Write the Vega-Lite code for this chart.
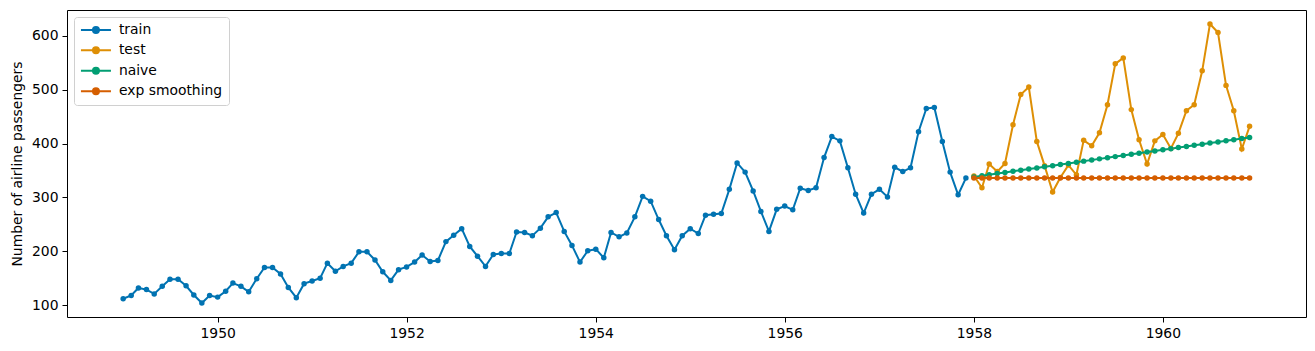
{
  "$schema": "https://vega.github.io/schema/vega-lite/v6.json",
  "autosize": {"type": "none"},
  "padding": {"left": 67, "top": 10, "right": 9, "bottom": 34},
  "width": 1239,
  "height": 307,
  "background": "white",
  "config": {
    "font": "DejaVu Sans",
    "view": {"stroke": "black", "strokeWidth": 1},
    "axis": {"grid": false, "domain": false, "tickColor": "black", "tickSize": 5, "tickWidth": 1, "labelColor": "black", "labelFontSize": 13.9, "labelFont": "DejaVu Sans", "labelPadding": 4, "titleFont": "DejaVu Sans", "titleFontSize": 13.9, "titleFontWeight": "normal", "titleColor": "black"}
  },
  "data": {"values": [
    {"month":"1949-01","series":"train","passengers":112},{"month":"1949-02","series":"train","passengers":118},{"month":"1949-03","series":"train","passengers":132},{"month":"1949-04","series":"train","passengers":129},{"month":"1949-05","series":"train","passengers":121},{"month":"1949-06","series":"train","passengers":135},{"month":"1949-07","series":"train","passengers":148},{"month":"1949-08","series":"train","passengers":148},{"month":"1949-09","series":"train","passengers":136},{"month":"1949-10","series":"train","passengers":119},{"month":"1949-11","series":"train","passengers":104},{"month":"1949-12","series":"train","passengers":118},
    {"month":"1950-01","series":"train","passengers":115},{"month":"1950-02","series":"train","passengers":126},{"month":"1950-03","series":"train","passengers":141},{"month":"1950-04","series":"train","passengers":135},{"month":"1950-05","series":"train","passengers":125},{"month":"1950-06","series":"train","passengers":149},{"month":"1950-07","series":"train","passengers":170},{"month":"1950-08","series":"train","passengers":170},{"month":"1950-09","series":"train","passengers":158},{"month":"1950-10","series":"train","passengers":133},{"month":"1950-11","series":"train","passengers":114},{"month":"1950-12","series":"train","passengers":140},
    {"month":"1951-01","series":"train","passengers":145},{"month":"1951-02","series":"train","passengers":150},{"month":"1951-03","series":"train","passengers":178},{"month":"1951-04","series":"train","passengers":163},{"month":"1951-05","series":"train","passengers":172},{"month":"1951-06","series":"train","passengers":178},{"month":"1951-07","series":"train","passengers":199},{"month":"1951-08","series":"train","passengers":199},{"month":"1951-09","series":"train","passengers":184},{"month":"1951-10","series":"train","passengers":162},{"month":"1951-11","series":"train","passengers":146},{"month":"1951-12","series":"train","passengers":166},
    {"month":"1952-01","series":"train","passengers":171},{"month":"1952-02","series":"train","passengers":180},{"month":"1952-03","series":"train","passengers":193},{"month":"1952-04","series":"train","passengers":181},{"month":"1952-05","series":"train","passengers":183},{"month":"1952-06","series":"train","passengers":218},{"month":"1952-07","series":"train","passengers":230},{"month":"1952-08","series":"train","passengers":242},{"month":"1952-09","series":"train","passengers":209},{"month":"1952-10","series":"train","passengers":191},{"month":"1952-11","series":"train","passengers":172},{"month":"1952-12","series":"train","passengers":194},
    {"month":"1953-01","series":"train","passengers":196},{"month":"1953-02","series":"train","passengers":196},{"month":"1953-03","series":"train","passengers":236},{"month":"1953-04","series":"train","passengers":235},{"month":"1953-05","series":"train","passengers":229},{"month":"1953-06","series":"train","passengers":243},{"month":"1953-07","series":"train","passengers":264},{"month":"1953-08","series":"train","passengers":272},{"month":"1953-09","series":"train","passengers":237},{"month":"1953-10","series":"train","passengers":211},{"month":"1953-11","series":"train","passengers":180},{"month":"1953-12","series":"train","passengers":201},
    {"month":"1954-01","series":"train","passengers":204},{"month":"1954-02","series":"train","passengers":188},{"month":"1954-03","series":"train","passengers":235},{"month":"1954-04","series":"train","passengers":227},{"month":"1954-05","series":"train","passengers":234},{"month":"1954-06","series":"train","passengers":264},{"month":"1954-07","series":"train","passengers":302},{"month":"1954-08","series":"train","passengers":293},{"month":"1954-09","series":"train","passengers":259},{"month":"1954-10","series":"train","passengers":229},{"month":"1954-11","series":"train","passengers":203},{"month":"1954-12","series":"train","passengers":229},
    {"month":"1955-01","series":"train","passengers":242},{"month":"1955-02","series":"train","passengers":233},{"month":"1955-03","series":"train","passengers":267},{"month":"1955-04","series":"train","passengers":269},{"month":"1955-05","series":"train","passengers":270},{"month":"1955-06","series":"train","passengers":315},{"month":"1955-07","series":"train","passengers":364},{"month":"1955-08","series":"train","passengers":347},{"month":"1955-09","series":"train","passengers":312},{"month":"1955-10","series":"train","passengers":274},{"month":"1955-11","series":"train","passengers":237},{"month":"1955-12","series":"train","passengers":278},
    {"month":"1956-01","series":"train","passengers":284},{"month":"1956-02","series":"train","passengers":277},{"month":"1956-03","series":"train","passengers":317},{"month":"1956-04","series":"train","passengers":313},{"month":"1956-05","series":"train","passengers":318},{"month":"1956-06","series":"train","passengers":374},{"month":"1956-07","series":"train","passengers":413},{"month":"1956-08","series":"train","passengers":405},{"month":"1956-09","series":"train","passengers":355},{"month":"1956-10","series":"train","passengers":306},{"month":"1956-11","series":"train","passengers":271},{"month":"1956-12","series":"train","passengers":306},
    {"month":"1957-01","series":"train","passengers":315},{"month":"1957-02","series":"train","passengers":301},{"month":"1957-03","series":"train","passengers":356},{"month":"1957-04","series":"train","passengers":348},{"month":"1957-05","series":"train","passengers":355},{"month":"1957-06","series":"train","passengers":422},{"month":"1957-07","series":"train","passengers":465},{"month":"1957-08","series":"train","passengers":467},{"month":"1957-09","series":"train","passengers":404},{"month":"1957-10","series":"train","passengers":347},{"month":"1957-11","series":"train","passengers":305},{"month":"1957-12","series":"train","passengers":336},
    {"month":"1958-01","series":"test","passengers":340},{"month":"1958-02","series":"test","passengers":318},{"month":"1958-03","series":"test","passengers":362},{"month":"1958-04","series":"test","passengers":348},{"month":"1958-05","series":"test","passengers":363},{"month":"1958-06","series":"test","passengers":435},{"month":"1958-07","series":"test","passengers":491},{"month":"1958-08","series":"test","passengers":505},{"month":"1958-09","series":"test","passengers":404},{"month":"1958-10","series":"test","passengers":359},{"month":"1958-11","series":"test","passengers":310},{"month":"1958-12","series":"test","passengers":337},
    {"month":"1959-01","series":"test","passengers":360},{"month":"1959-02","series":"test","passengers":342},{"month":"1959-03","series":"test","passengers":406},{"month":"1959-04","series":"test","passengers":396},{"month":"1959-05","series":"test","passengers":420},{"month":"1959-06","series":"test","passengers":472},{"month":"1959-07","series":"test","passengers":548},{"month":"1959-08","series":"test","passengers":559},{"month":"1959-09","series":"test","passengers":463},{"month":"1959-10","series":"test","passengers":407},{"month":"1959-11","series":"test","passengers":362},{"month":"1959-12","series":"test","passengers":405},
    {"month":"1960-01","series":"test","passengers":417},{"month":"1960-02","series":"test","passengers":391},{"month":"1960-03","series":"test","passengers":419},{"month":"1960-04","series":"test","passengers":461},{"month":"1960-05","series":"test","passengers":472},{"month":"1960-06","series":"test","passengers":535},{"month":"1960-07","series":"test","passengers":622},{"month":"1960-08","series":"test","passengers":606},{"month":"1960-09","series":"test","passengers":508},{"month":"1960-10","series":"test","passengers":461},{"month":"1960-11","series":"test","passengers":390},{"month":"1960-12","series":"test","passengers":432},
    {"month":"1958-01","series":"naive","passengers":338.09},{"month":"1958-02","series":"naive","passengers":340.19},{"month":"1958-03","series":"naive","passengers":342.28},{"month":"1958-04","series":"naive","passengers":344.37},{"month":"1958-05","series":"naive","passengers":346.47},{"month":"1958-06","series":"naive","passengers":348.56},{"month":"1958-07","series":"naive","passengers":350.65},{"month":"1958-08","series":"naive","passengers":352.75},{"month":"1958-09","series":"naive","passengers":354.84},{"month":"1958-10","series":"naive","passengers":356.93},{"month":"1958-11","series":"naive","passengers":359.03},{"month":"1958-12","series":"naive","passengers":361.12},
    {"month":"1959-01","series":"naive","passengers":363.21},{"month":"1959-02","series":"naive","passengers":365.31},{"month":"1959-03","series":"naive","passengers":367.40},{"month":"1959-04","series":"naive","passengers":369.50},{"month":"1959-05","series":"naive","passengers":371.59},{"month":"1959-06","series":"naive","passengers":373.68},{"month":"1959-07","series":"naive","passengers":375.78},{"month":"1959-08","series":"naive","passengers":377.87},{"month":"1959-09","series":"naive","passengers":379.96},{"month":"1959-10","series":"naive","passengers":382.06},{"month":"1959-11","series":"naive","passengers":384.15},{"month":"1959-12","series":"naive","passengers":386.24},
    {"month":"1960-01","series":"naive","passengers":388.34},{"month":"1960-02","series":"naive","passengers":390.43},{"month":"1960-03","series":"naive","passengers":392.52},{"month":"1960-04","series":"naive","passengers":394.62},{"month":"1960-05","series":"naive","passengers":396.71},{"month":"1960-06","series":"naive","passengers":398.80},{"month":"1960-07","series":"naive","passengers":400.90},{"month":"1960-08","series":"naive","passengers":402.99},{"month":"1960-09","series":"naive","passengers":405.08},{"month":"1960-10","series":"naive","passengers":407.18},{"month":"1960-11","series":"naive","passengers":409.27},{"month":"1960-12","series":"naive","passengers":411.36},
    {"month":"1958-01","series":"exp smoothing","passengers":335.9},{"month":"1958-02","series":"exp smoothing","passengers":335.9},{"month":"1958-03","series":"exp smoothing","passengers":335.9},{"month":"1958-04","series":"exp smoothing","passengers":335.9},{"month":"1958-05","series":"exp smoothing","passengers":335.9},{"month":"1958-06","series":"exp smoothing","passengers":335.9},{"month":"1958-07","series":"exp smoothing","passengers":335.9},{"month":"1958-08","series":"exp smoothing","passengers":335.9},{"month":"1958-09","series":"exp smoothing","passengers":335.9},{"month":"1958-10","series":"exp smoothing","passengers":335.9},{"month":"1958-11","series":"exp smoothing","passengers":335.9},{"month":"1958-12","series":"exp smoothing","passengers":335.9},
    {"month":"1959-01","series":"exp smoothing","passengers":335.9},{"month":"1959-02","series":"exp smoothing","passengers":335.9},{"month":"1959-03","series":"exp smoothing","passengers":335.9},{"month":"1959-04","series":"exp smoothing","passengers":335.9},{"month":"1959-05","series":"exp smoothing","passengers":335.9},{"month":"1959-06","series":"exp smoothing","passengers":335.9},{"month":"1959-07","series":"exp smoothing","passengers":335.9},{"month":"1959-08","series":"exp smoothing","passengers":335.9},{"month":"1959-09","series":"exp smoothing","passengers":335.9},{"month":"1959-10","series":"exp smoothing","passengers":335.9},{"month":"1959-11","series":"exp smoothing","passengers":335.9},{"month":"1959-12","series":"exp smoothing","passengers":335.9},
    {"month":"1960-01","series":"exp smoothing","passengers":335.9},{"month":"1960-02","series":"exp smoothing","passengers":335.9},{"month":"1960-03","series":"exp smoothing","passengers":335.9},{"month":"1960-04","series":"exp smoothing","passengers":335.9},{"month":"1960-05","series":"exp smoothing","passengers":335.9},{"month":"1960-06","series":"exp smoothing","passengers":335.9},{"month":"1960-07","series":"exp smoothing","passengers":335.9},{"month":"1960-08","series":"exp smoothing","passengers":335.9},{"month":"1960-09","series":"exp smoothing","passengers":335.9},{"month":"1960-10","series":"exp smoothing","passengers":335.9},{"month":"1960-11","series":"exp smoothing","passengers":335.9},{"month":"1960-12","series":"exp smoothing","passengers":335.9}
  ]},
  "encoding": {
    "x": {"field": "month", "type": "temporal",
      "scale": {"type": "utc", "domain": [{"year": 1948, "month": 5, "date": 29, "utc": true}, {"year": 1961, "month": 7, "date": 7, "utc": true}]},
      "axis": {"title": null, "format": "%Y", "values": [{"year": 1950, "month": 1, "date": 1, "utc": true}, {"year": 1952, "month": 1, "date": 1, "utc": true}, {"year": 1954, "month": 1, "date": 1, "utc": true}, {"year": 1956, "month": 1, "date": 1, "utc": true}, {"year": 1958, "month": 1, "date": 1, "utc": true}, {"year": 1960, "month": 1, "date": 1, "utc": true}]}},
    "y": {"field": "passengers", "type": "quantitative",
      "scale": {"domain": [78.1, 647.9], "nice": false, "zero": false},
      "axis": {"title": "Number of airline passengers", "values": [100, 200, 300, 400, 500, 600], "titlePadding": 7}},
    "color": {"field": "series", "type": "nominal",
      "scale": {"domain": ["train", "test", "naive", "exp smoothing"], "range": ["#0173b2", "#de8f05", "#029e73", "#d55e00"]},
      "legend": {"title": null, "orient": "top-left", "offset": 7, "padding": 6, "strokeColor": "#d0d0d0", "fillColor": "rgba(255,255,255,0.8)", "cornerRadius": 3,
        "labelFontSize": 13.9, "labelFont": "DejaVu Sans", "labelColor": "black", "labelOffset": 25, "rowPadding": 5.4,
        "symbolType": "M-1.2,0H4.8M2.4,0A0.6,0.6 0 1 1 1.2,0A0.6,0.6 0 1 1 2.4,0Z", "symbolSize": 100, "symbolStrokeWidth": 2, "symbolOpacity": 1,
        "encode": {"symbols": {"update": {"fill": {"scale": "color", "field": "value"}, "stroke": {"scale": "color", "field": "value"}, "strokeWidth": {"value": 2}, "opacity": {"value": 1}}}}}}
  },
  "layer": [
    {"mark": {"type": "line", "strokeWidth": 2}},
    {"mark": {"type": "point", "filled": true, "size": 30, "opacity": 1}}
  ]
}
